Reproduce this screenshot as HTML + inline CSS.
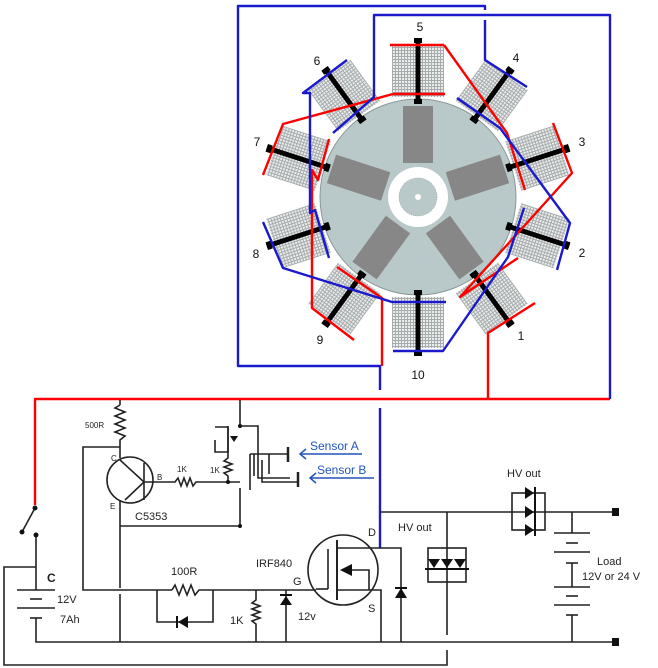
<!DOCTYPE html>
<html><head><meta charset="utf-8"><style>
html,body{margin:0;padding:0;background:#fff;}
svg{display:block;font-family:"Liberation Sans",sans-serif;}
</style></head><body>
<svg width="658" height="668" viewBox="0 0 658 668" xmlns="http://www.w3.org/2000/svg">
<defs>
<pattern id="cp" width="3" height="3" patternUnits="userSpaceOnUse">
<rect width="3" height="3" fill="#a6abac"/><rect x="0" y="0" width="2" height="2" fill="#eceeee"/>
</pattern>
<g id="coil">
<rect x="392" y="46" width="52" height="51" fill="url(#cp)"/>
<rect x="415.5" y="38" width="5" height="66" fill="#000"/>
<rect x="414" y="38" width="8" height="5" fill="#000"/>
<rect x="414" y="99" width="8" height="5" fill="#000"/>
</g>
<rect id="mag" x="403" y="106" width="30" height="57" fill="#878787"/>
</defs>

<circle cx="418" cy="197" r="98" fill="#b9c8c8" stroke="#8a9898" stroke-width="1"/>
<use href="#mag"/>
<use href="#mag" transform="rotate(72 418 197)"/>
<use href="#mag" transform="rotate(144 418 197)"/>
<use href="#mag" transform="rotate(216 418 197)"/>
<use href="#mag" transform="rotate(288 418 197)"/>
<circle cx="418" cy="197" r="30" fill="#fff"/>
<circle cx="418" cy="197" r="19" fill="#b9c8c8" stroke="#8a9898" stroke-width="0.6" stroke-dasharray="1 1"/>
<circle cx="418" cy="197" r="3" fill="#fff"/>

<use href="#coil"/>
<use href="#coil" transform="rotate(36 418 197)"/>
<use href="#coil" transform="rotate(72 418 197)"/>
<use href="#coil" transform="rotate(108 418 197)"/>
<use href="#coil" transform="rotate(144 418 197)"/>
<use href="#coil" transform="rotate(180 418 197)"/>
<use href="#coil" transform="rotate(216 418 197)"/>
<use href="#coil" transform="rotate(252 418 197)"/>
<use href="#coil" transform="rotate(288 418 197)"/>
<use href="#coil" transform="rotate(324 418 197)"/>

<g fill="none" stroke-width="2.4" stroke-linejoin="round">
<g stroke="#f00">
<line x1="390" y1="45" x2="444" y2="45"/>
<line x1="393" y1="94" x2="445" y2="94"/>
<polyline points="444,45 507,133 525,190"/>
<polyline points="393,94 283,124 263,175"/>
<polyline points="329,139 318,180 312,170 312,308 354,340"/>
<polyline points="337,267 382,298 382,366"/>
<polyline points="553,123 572,173 460,297 518,258"/>
<polyline points="535,303 488,333 488,399"/>
<polyline points="610,399 35,399 35,505"/>
</g>
<g stroke="#1a1acc">
<polyline points="485,10 485,6 238,6 238,366 380,366 380,390"/>
<polyline points="485,20 485,60 527,87"/>
<polyline points="380,408 380,548"/>
<polyline points="610,399 610,15 374,15 374,97 333,133"/>
<polyline points="457,98 500,128 570,223 557,270"/>
<polyline points="524,208 508,257 443,351 393,351"/>
<polyline points="446,302 392,302 283,268 263,222"/>
<polyline points="329,258 315,210 310,213 310,93 303,93 347,60"/>
</g>
</g>

<g font-size="12" fill="#111" text-anchor="middle">
<text x="420" y="31">5</text><text x="516" y="62">4</text><text x="582" y="146">3</text>
<text x="582" y="257">2</text><text x="521" y="340">1</text><text x="418" y="379">10</text>
<text x="320" y="344">9</text><text x="256" y="258">8</text><text x="257" y="146">7</text><text x="317" y="65">6</text>
</g>

<g stroke="#222" stroke-width="1.6" fill="none">
<line x1="22" y1="532" x2="35" y2="508"/>
<polyline points="36,535 36,590"/>
<line x1="17" y1="590" x2="55" y2="590"/>
<line x1="30" y1="599" x2="42" y2="599"/>
<line x1="17" y1="608" x2="55" y2="608"/>
<line x1="30" y1="618" x2="42" y2="618"/>
<polyline points="36,618 36,642 615,642"/>
<polyline points="36,567 4,567 4,665 447,665 447,650"/>
<circle cx="130" cy="480" r="23"/>
<line x1="120" y1="400" x2="120" y2="405"/>
<polyline points="120,405 115,408 125,412 115,416 125,420 115,424 125,428 115,432 125,436 120,440 120,458"/>
<line x1="144" y1="463" x2="144" y2="500"/>
<line x1="144" y1="482" x2="120" y2="460"/>
<line x1="144" y1="482" x2="125" y2="500"/>
<polyline points="120,500 120,588"/><polyline points="120,594 120,642"/>
<polyline points="120,447 83,447 83,590 172,590"/>
<polyline points="144,482 175,482 178,478 181,486 184,478 187,486 190,478 193,486 196,482 228,482 240,482"/>
<polyline points="240,400 240,426 258,426 258,478 290,478"/>
<polyline points="240,488 240,526 120,526"/>
<polyline points="172,590 175,585 179,595 183,585 187,595 191,585 195,595 199,590 316,590"/>
<polyline points="157,590 157,622 213,622 213,590"/>
<polyline points="228,426 228,458 224,461 232,464 224,467 232,470 224,473 228,476 228,482"/>
<polyline points="215,427 228,427 228,452 215,452 215,440"/>
<polyline points="250,454 288,454"/><polyline points="250,454 250,490"/>
<polyline points="254,454 254,476"/><polyline points="262,460 262,482 298,482"/>
<line x1="288" y1="447" x2="288" y2="462" stroke-width="2.5"/>
<line x1="298" y1="472" x2="298" y2="487" stroke-width="2.5"/>
<line x1="269" y1="454" x2="269" y2="474"/>
<circle cx="343" cy="570" r="35"/>
<line x1="328" y1="549" x2="328" y2="589"/>
<line x1="337" y1="540" x2="337" y2="600" stroke-width="2"/>
<polyline points="337,548 401,548 401,642"/>
<polyline points="337,590 381,590 381,642"/>
<polyline points="352,570 369,570 369,590"/>
<polyline points="316,589 328,589"/>
<polyline points="256,590 256,600 252,603 260,606 252,609 260,612 252,615 260,618 252,621 256,624 256,642"/>
<line x1="286" y1="590" x2="286" y2="642"/>
<polyline points="380,512 615,512"/>
<polyline points="447,512 447,635"/>
<rect x="428" y="548" width="38" height="34"/>
<rect x="512" y="493" width="33" height="37"/>
<polyline points="572,512 572,533"/>
<line x1="554" y1="533" x2="590" y2="533"/><line x1="566" y1="543" x2="578" y2="543"/>
<line x1="554" y1="552" x2="590" y2="552"/><line x1="566" y1="563" x2="578" y2="563"/>
<line x1="572" y1="563" x2="572" y2="587"/>
<line x1="554" y1="587" x2="590" y2="587"/><line x1="566" y1="596" x2="578" y2="596"/>
<line x1="554" y1="605" x2="590" y2="605"/><line x1="566" y1="615" x2="578" y2="615"/>
<line x1="572" y1="615" x2="572" y2="642"/>
</g>
<g fill="#111">
<circle cx="35" cy="508" r="2.5"/><circle cx="22" cy="532" r="2.5"/><circle cx="36" cy="535" r="2.5"/>
<circle cx="240" cy="426" r="2"/><circle cx="228" cy="482" r="2"/><circle cx="240" cy="526" r="2"/>
<polygon points="340,570 352,564 352,576"/>
<polygon points="178,622 188,616 188,628"/><rect x="176" y="616" width="2" height="12"/>
<polygon points="280,605 292,605 286,596"/><rect x="280" y="594" width="12" height="2"/>
<polygon points="395,598 407,598 401,588"/><rect x="395" y="587" width="12" height="2"/>
<polygon points="428,559 440,559 434,568"/><polygon points="441,559 453,559 447,568"/><polygon points="454,559 466,559 460,568"/>
<rect x="425" y="568" width="44" height="2"/>
<polygon points="525,487 525,499 534,493"/><polygon points="525,506 525,518 534,512"/><polygon points="525,524 525,536 534,530"/>
<rect x="534" y="487" width="2" height="49"/>
<rect x="612" y="508" width="7" height="8"/><rect x="612" y="638" width="7" height="8"/>
<polygon points="230,436 238,436 234,442"/>
</g>
<g stroke="#2255bb" stroke-width="1.5" fill="none">
<line x1="300" y1="454" x2="362" y2="454"/><polyline points="306,449 300,454 306,459"/>
<line x1="310" y1="478" x2="374" y2="478"/><polyline points="316,473 310,478 316,483"/>
</g>
<g fill="#222" font-size="11">
<text x="47" y="582" font-weight="bold" font-size="12">C</text>
<text x="57" y="603">12V</text><text x="60" y="623">7Ah</text>
<text x="85" y="428" font-size="8">500R</text>
<text x="111" y="461" font-size="8">C</text><text x="110" y="509" font-size="8">E</text>
<text x="157" y="480" font-size="8">B</text><text x="177" y="472" font-size="8">1K</text>
<text x="210" y="473" font-size="8">1K</text>
<text x="135" y="520">C5353</text>
<text x="171" y="575">100R</text>
<text x="256" y="567">IRF840</text>
<text x="293" y="585">G</text><text x="368" y="536">D</text><text x="368" y="612">S</text>
<text x="230" y="624">1K</text><text x="298" y="620">12v</text>
<text x="398" y="531">HV out</text><text x="507" y="477">HV out</text>
<text x="597" y="565">Load</text><text x="582" y="580">12V or 24 V</text>
</g>
<g fill="#2255bb" font-size="12">
<text x="310" y="450">Sensor A</text><text x="317" y="474">Sensor B</text>
</g>
</svg>
</body></html>
